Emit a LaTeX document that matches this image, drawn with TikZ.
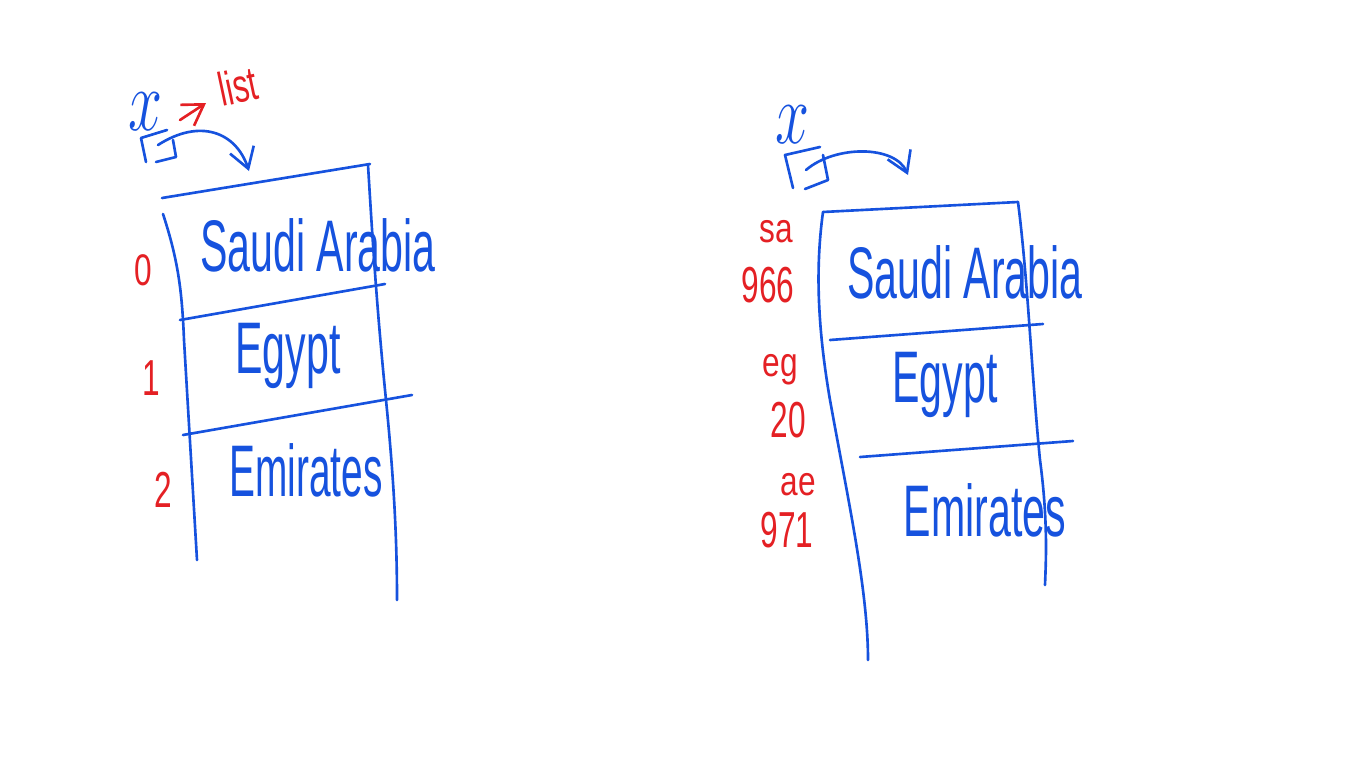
\documentclass[tikz,border=0pt]{standalone}
\usepackage{fontspec}
\setmainfont{Liberation Sans}
\usetikzlibrary{arrows.meta}
\definecolor{inkblue}{RGB}{22,82,222}
\definecolor{inkred}{RGB}{228,32,36}
\begin{document}
\begin{tikzpicture}[x=0.02cm,y=-0.02cm,
    pen/.style={inkblue,line width=1.5pt,line cap=round,line join=round},
    redpen/.style={inkred,line width=1.5pt,line cap=round,line join=round},
    cell/.style={inkblue,font=\fontsize{26}{30}\selectfont,inner sep=0pt},
    idx/.style={inkred,font=\fontsize{18}{22}\selectfont,inner sep=0pt},
    var/.style={inkblue,font=\fontsize{34}{34}\selectfont,inner sep=0pt},
    barb/.style={-{Straight Barb[length=4mm,width=5mm]}}]
    \useasboundingbox (0,0) rectangle (1366,768);
%    \draw[orange,thin] (0,0) grid[step=100] (1366,768);

    % ---- left: list ----
    \node[var] (lx) at (146,112) {\scalebox{1.4}[2]{$x$}};
    \coordinate (lfrom) at (180,120);
    \coordinate (lto) at (206,103);
    \draw[redpen,barb] (lfrom) -- (lto);
    \node[idx,rotate=12] (llist) at (238,86) {\scalebox{1}[1.5]{list}};

    % box
    \draw[pen] (146,162) -- (141,138) -- (167,130);
    \draw[pen] (156,162) -- (176,157) -- (173,140);
    \coordinate (lbox) at (158,145);
    \coordinate (ltop) at (249,171);
    \draw[pen,barb] (lbox) .. controls (200,118) and (236,132) .. (ltop);

    % column
    \draw[pen] (162,198) -- (370,164);
    \draw[pen] (163,214) .. controls (178,260) and (182,290) .. (184,340) -- (197,560);
    \draw[pen] (368,165) .. controls (372,230) and (376,300) .. (386,400) .. controls (394,480) and (397,540) .. (397,600);
    \draw[pen] (180,320) -- (385,284);
    \draw[pen] (183,435) -- (412,395);

    \node[cell] (lsaudi) at (318,245) {\scalebox{0.9}[1.6]{Saudi Arabia}};
    \node[cell] (legypt) at (288,356) {\scalebox{0.9}[1.6]{Egypt}};
    \node[cell] (lemir) at (306,470) {\scalebox{0.85}[1.6]{Emirates}};

    \node[idx] (izero) at (143,270) {\scalebox{1}[1.4]{0}};
    \node[idx] (ione) at (151,378) {\scalebox{1}[1.6]{1}};
    \node[idx] (itwo) at (163,490) {\scalebox{1}[1.6]{2}};

    % ---- right: dict ----
    \node[var] (rx) at (793,125) {\scalebox{1.4}[2]{$x$}};

    % box
    \draw[pen] (793,188) -- (785,155) -- (820,147);
    \draw[pen] (805,189) -- (828,180) -- (823,155);
    \coordinate (rbox) at (806,170);
    \coordinate (rtop) at (908,175);
    \draw[pen,barb] (rbox) .. controls (835,145) and (895,145) .. (rtop);

    % column
    \draw[pen] (823,212) -- (1018,202);
    \draw[pen] (823,212) .. controls (815,270) and (818,330) .. (830,400) .. controls (848,500) and (868,590) .. (868,660);
    \draw[pen] (1018,202) .. controls (1028,280) and (1032,380) .. (1040,460) .. controls (1048,520) and (1046,560) .. (1045,585);
    \draw[pen] (830,340) -- (1043,324);
    \draw[pen] (860,457) -- (1073,441);

    \node[cell] (rsaudi) at (965,272) {\scalebox{0.9}[1.6]{Saudi Arabia}};
    \node[cell] (regypt) at (945,385) {\scalebox{0.9}[1.6]{Egypt}};
    \node[cell] (remir) at (985,510) {\scalebox{0.9}[1.6]{Emirates}};

    \node[idx] (ksa) at (776,232) {\scalebox{1}[1.3]{sa}};
    \node[idx] (vsa) at (768,285) {\scalebox{1}[1.6]{966}};
    \node[idx] (keg) at (780,370) {\scalebox{1}[1.3]{eg}};
    \node[idx] (veg) at (788,420) {\scalebox{1}[1.6]{20}};
    \node[idx] (kae) at (798,485) {\scalebox{1}[1.3]{ae}};
    \node[idx] (vae) at (787,530) {\scalebox{1}[1.6]{971}};

\end{tikzpicture}
\end{document}
